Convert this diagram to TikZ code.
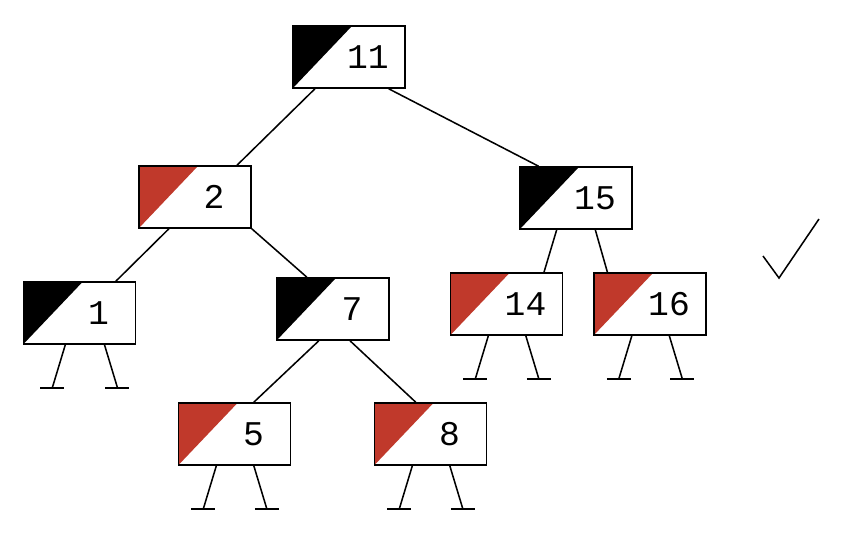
\documentclass[tikz,border=0pt]{standalone}
\usepackage{fontspec}
\setmonofont{Liberation Mono}
\usepackage{tikz}
\usetikzlibrary{calc}
\definecolor{rbred}{RGB}{192,57,43}

\tikzset{
  rbnode/.style={draw, line width=1.2pt, fill=white, minimum width=84pt, minimum height=46.5pt, inner sep=0pt,
    font=\ttfamily\fontsize{26}{30}\selectfont, execute at begin node={\hspace*{28.5pt}},
    path picture={\fill[#1] (path picture bounding box.north west) -- ++(44.25pt,0) -- (path picture bounding box.south west) -- cycle;}},
  blacknode/.style={rbnode=black},
  rednode/.style={rbnode=rbred},
  treeline/.style={line width=1.15pt},
}

\begin{document}
\begin{tikzpicture}[x=0.75pt,y=0.75pt,yscale=-1,xscale=1]
\useasboundingbox (0,0) rectangle (843,533);

% Tree Nodes
\node[blacknode] (n11) at (349,57) {11};
\node[rednode]   (n2)  at (195,197) {2};
\node[blacknode] (n15) at (576,198) {15};
\node[blacknode] (n1)  at (79.5,313) {1};
\node[blacknode] (n7)  at (333,309) {7};
\node[rednode]   (n14) at (506.5,304) {14};
\node[rednode]   (n16) at (650,304) {16};
\node[rednode]   (n5)  at (234.5,434) {5};
\node[rednode]   (n8)  at (430.5,434) {8};

%Straight Lines
\draw[treeline] ($(n11.south west)!0.2!(n11.south east)$) -- ($(n2.north west)!0.87!(n2.north east)$);
\draw[treeline] ($(n11.south west)!0.85!(n11.south east)$) -- ($(n15.north west)!0.17!(n15.north east)$);
\draw[treeline] ($(n2.south west)!0.27!(n2.south east)$) -- ($(n1.north west)!0.82!(n1.north east)$);
\draw[treeline] (n2.south east) -- ($(n7.north west)!0.27!(n7.north east)$);
\draw[treeline] ($(n7.south west)!0.375!(n7.south east)$) -- ($(n5.north west)!0.67!(n5.north east)$);
\draw[treeline] ($(n7.south west)!0.65!(n7.south east)$) -- ($(n8.north west)!0.37!(n8.north east)$);
\draw[treeline] ($(n15.south west)!0.33!(n15.south east)$) -- ($(n14.north west)!0.83!(n14.north east)$);
\draw[treeline] ($(n15.south west)!0.67!(n15.south east)$) -- ($(n16.north west)!0.125!(n16.north east)$);

%Nil Leaves
\foreach \n/\a/\b in {n1/0.375/0.72, n5/0.34/0.67, n8/0.34/0.67, n14/0.34/0.67, n16/0.34/0.67}{
  \draw[treeline] ($(\n.south west)!\a!(\n.south east)$) -- ++(-13,43) coordinate (\n-l);
  \draw[treeline] ($(\n.south west)!\b!(\n.south east)$) -- ++(13,43) coordinate (\n-r);
  \draw[treeline] ([xshift=-9pt]\n-l) -- ([xshift=9pt]\n-l);
  \draw[treeline] ([xshift=-9pt]\n-r) -- ([xshift=9pt]\n-r);
}

%Check Mark
\draw[line width=1.15pt] (763,256) -- (779,278) -- (819,219);
\end{tikzpicture}
\end{document}
